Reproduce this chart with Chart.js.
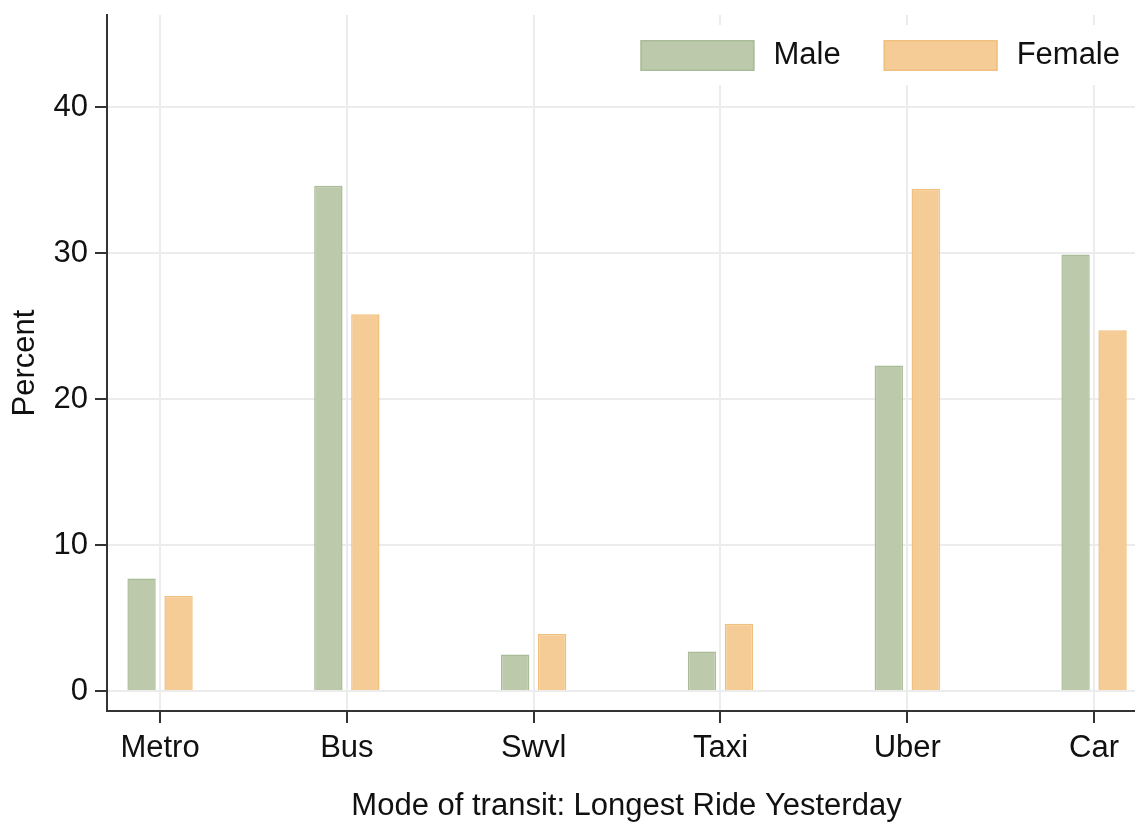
<!DOCTYPE html>
<html lang="en">
<head>
<meta charset="UTF-8">
<title>Mode of transit: Longest Ride Yesterday</title>
<script src="https://cdn.jsdelivr.net/npm/chart.js"></script>
<style>
  html, body { margin: 0; padding: 0; background: #fff; overflow: hidden; }
  #wrap { width: 1146px; height: 822px; }
</style>
</head>
<body>
<div id="wrap"><canvas id="chart"></canvas></div>
<script>
const categories = ['Metro', 'Bus', 'Swvl', 'Taxi', 'Uber', 'Car'];
const maleValues = [7.7, 34.6, 2.5, 2.7, 22.3, 29.9];
const femaleValues = [6.5, 25.8, 3.9, 4.6, 34.4, 24.7];
const yTicks = [0, 10, 20, 30, 40];

Chart.defaults.font.family = "'Liberation Sans', Arial, sans-serif";
Chart.defaults.color = '#111';

// legend sits inside the plot, top right, on a white patch over the grid
const insideLegend = {
  id: 'insideLegend',
  beforeDatasetsDraw(chart) {
    const ctx = chart.ctx;
    const area = chart.chartArea;
    const boxW = 114, boxH = 31, gapText = 19, gapItem = 43;
    ctx.save();
    ctx.font = "31px 'Liberation Sans', Arial, sans-serif";
    const items = chart.data.datasets.map(ds => ({
      label: ds.label, fill: ds.backgroundColor, stroke: ds.borderColor,
      w: ctx.measureText(ds.label).width
    }));
    let total = 0;
    items.forEach((it, i) => { total += boxW + gapText + it.w + (i ? gapItem : 0); });
    let x = area.right - 26 - total;
    const top = area.top + 25;
    ctx.fillStyle = '#fff';
    ctx.fillRect(x - 22, area.top + 10, area.right - x + 22, 60);
    ctx.textBaseline = 'middle';
    ctx.textAlign = 'left';
    items.forEach(it => {
      ctx.fillStyle = it.fill;
      ctx.fillRect(x, top, boxW, boxH);
      ctx.strokeStyle = it.stroke;
      ctx.lineWidth = 1.5;
      ctx.strokeRect(x + 0.75, top + 0.75, boxW - 1.5, boxH - 1.5);
      ctx.fillStyle = '#111';
      ctx.fillText(it.label, x + boxW + gapText, top + boxH / 2);
      x += boxW + gapText + it.w + gapItem;
    });
    ctx.restore();
  }
};

const ctx = document.getElementById('chart').getContext('2d');
const chart = new Chart(ctx, {
  type: 'bar',
  data: {
    datasets: [{
      label: 'Male',
      data: categories.map((c, i) => ({ x: i, y: maleValues[i] })),
      backgroundColor: '#bccaab',
      borderColor: '#a9bc97',
      borderWidth: 1.5,
      categoryPercentage: 0.396,
      barPercentage: 0.767
    }, {
      label: 'Female',
      data: categories.map((c, i) => ({ x: i, y: femaleValues[i] })),
      backgroundColor: '#f5cc95',
      borderColor: '#f1bf7e',
      borderWidth: 1.5,
      categoryPercentage: 0.396,
      barPercentage: 0.767
    }]
  },
  options: {
    responsive: true,
    maintainAspectRatio: false,
    animation: false,
    layout: { padding: { top: 15, right: 0, left: 0, bottom: 0 } },
    plugins: {
      legend: { display: false },
      tooltip: { enabled: false }
    },
    scales: {
      x: {
        type: 'linear',
        offset: false,
        min: -0.284,
        max: 5.278,
        afterBuildTicks: s => { s.ticks = categories.map((c, i) => ({ value: i })); },
        afterFit: s => { s.height = 111; s.paddingLeft = 0; s.paddingRight = 0; },
        ticks: {
          callback: v => categories[v],
          font: { size: 31 },
          color: '#111',
          padding: 7,
          maxRotation: 0,
          autoSkip: false
        },
        grid: { offset: false, color: '#ececec', lineWidth: 2, tickLength: 12, tickColor: '#333', tickWidth: 2 },
        border: { color: '#333', width: 2 },
        title: {
          display: true,
          text: 'Mode of transit: Longest Ride Yesterday',
          font: { size: 31, lineHeight: 1 },
          color: '#111',
          padding: 0
        }
      },
      y: {
        min: -1.37,
        max: 46.3,
        afterBuildTicks: s => { s.ticks = yTicks.map(v => ({ value: v })); },
        afterFit: s => { s.width = 107; s.paddingTop = 0; s.paddingBottom = 0; },
        ticks: { font: { size: 31 }, color: '#111', padding: 7 },
        grid: { color: '#ececec', lineWidth: 2, tickLength: 12, tickColor: '#333', tickWidth: 2 },
        border: { color: '#333', width: 2 },
        title: {
          display: true,
          text: 'Percent',
          font: { size: 31, lineHeight: 1 },
          color: '#111',
          padding: { top: 10, bottom: 0 }
        }
      }
    }
  },
  plugins: [insideLegend]
});
</script>
</body>
</html>
